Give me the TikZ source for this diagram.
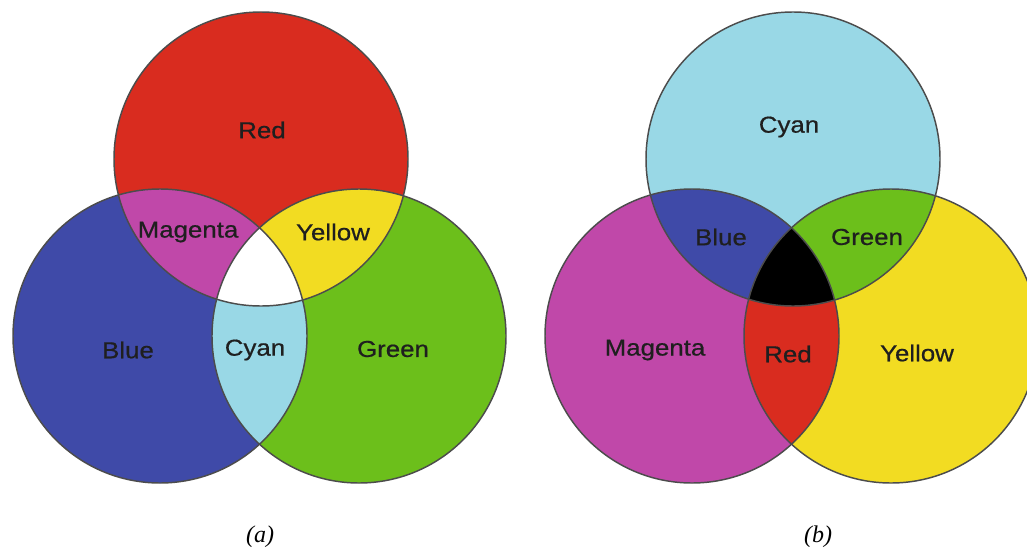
\documentclass[tikz,border=0pt]{standalone}
\usepackage{xcolor}
\usepackage{fontspec}
\setmainfont{Liberation Sans}
\newfontfamily\labelfont{Liberation Sans}[FakeBold=0.6]
\newfontfamily\capfont{Liberation Serif}
\usetikzlibrary{positioning}
\definecolor{mixred}{HTML}{D92C1F}
\definecolor{mixblue}{HTML}{3F4AA8}
\definecolor{mixgreen}{HTML}{6CBF1B}
\definecolor{mixmagenta}{HTML}{C048A9}
\definecolor{mixyellow}{HTML}{F2DC22}
\definecolor{mixcyan}{HTML}{99D8E6}
\tikzset{
  rim/.style={draw=black!70, line width=1.1pt},
  colourlabel/.style={font=\labelfont\fontsize{17.3}{20}\selectfont, text=black!88, xscale=1.12, inner sep=0pt},
  caption/.style={font=\capfont\itshape\fontsize{18}{21}\selectfont, inner sep=0pt}
}
\def\rad{147}

\begin{document}
\begin{tikzpicture}[x=0.75pt,y=0.75pt]
  \fill[white] (0,0) rectangle (1027,-553);
  \useasboundingbox (0,0) rectangle (1027,-553);
  \clip (0,0) rectangle (1027,-553);

  % (a) additive mixing
  \coordinate (aR) at (261,-159);
  \coordinate (aB) at (160,-336);
  \coordinate (aG) at (359,-336);
  \fill[mixred] (aR) circle[radius=\rad];
  \fill[mixblue] (aB) circle[radius=\rad];
  \fill[mixgreen] (aG) circle[radius=\rad];
  \begin{scope}
    \clip (aR) circle[radius=\rad];
    \fill[mixmagenta] (aB) circle[radius=\rad];
    \fill[mixyellow] (aG) circle[radius=\rad];
  \end{scope}
  \begin{scope}
    \clip (aB) circle[radius=\rad];
    \fill[mixcyan] (aG) circle[radius=\rad];
    \clip (aR) circle[radius=\rad];
    \fill[white] (aG) circle[radius=\rad];
  \end{scope}
  \draw[rim] (aR) circle[radius=\rad];
  \draw[rim] (aB) circle[radius=\rad];
  \draw[rim] (aG) circle[radius=\rad];

  \node[colourlabel] (aRed) at (262,-130) {Red};
  \node[colourlabel] (aMagenta) at (188,-232) {Magenta};
  \node[colourlabel] (aYellow) at (333,-232) {Yellow};
  \node[colourlabel] (aBlue) at (128,-350) {Blue};
  \node[colourlabel] (aCyan) at (255,-350) {Cyan};
  \node[colourlabel] (aGreen) at (393,-349) {Green};

  % (b) subtractive mixing
  \coordinate (bC) at (793,-159);
  \coordinate (bM) at (692,-336);
  \coordinate (bY) at (891,-336);
  \fill[mixcyan] (bC) circle[radius=\rad];
  \fill[mixmagenta] (bM) circle[radius=\rad];
  \fill[mixyellow] (bY) circle[radius=\rad];
  \begin{scope}
    \clip (bC) circle[radius=\rad];
    \fill[mixblue] (bM) circle[radius=\rad];
    \fill[mixgreen] (bY) circle[radius=\rad];
  \end{scope}
  \begin{scope}
    \clip (bM) circle[radius=\rad];
    \fill[mixred] (bY) circle[radius=\rad];
    \clip (bC) circle[radius=\rad];
    \fill[black] (bY) circle[radius=\rad];
  \end{scope}
  \draw[rim] (bC) circle[radius=\rad];
  \draw[rim] (bM) circle[radius=\rad];
  \draw[rim] (bY) circle[radius=\rad];

  \node[colourlabel] (bCyan) at (789,-127) {Cyan};
  \node[colourlabel] (bBlue) at (721,-237) {Blue};
  \node[colourlabel] (bGreen) at (867,-237) {Green};
  \node[colourlabel] (bMagenta) at (655,-350) {Magenta};
  \node[colourlabel] (bRed) at (788,-354) {Red};
  \node[colourlabel] (bYellow) at (917,-353) {Yellow};

  % captions
  \node[caption] (capA) at (260,-537) {(a)};
  \node[caption] (capB) at (818,-537) {(b)};
\end{tikzpicture}
\end{document}
